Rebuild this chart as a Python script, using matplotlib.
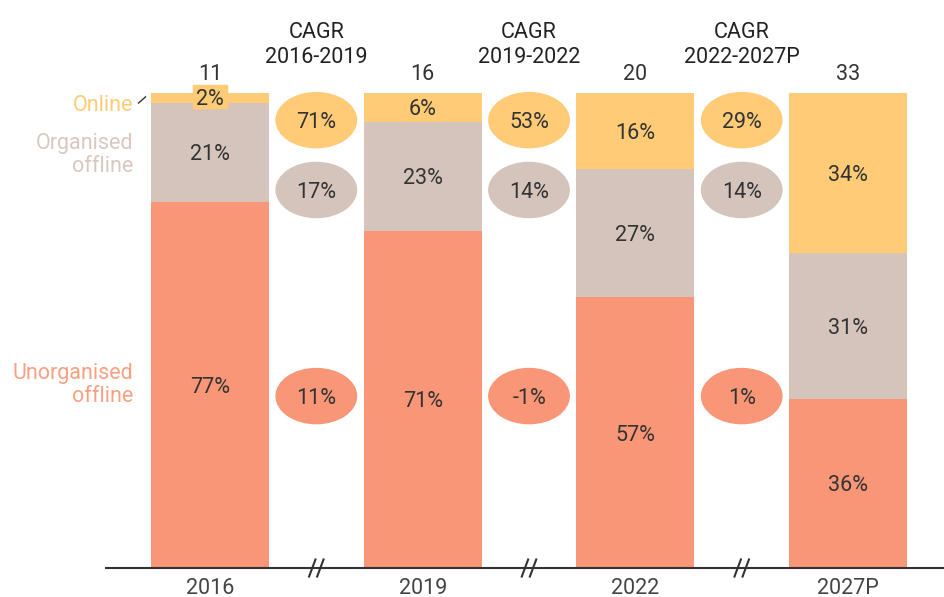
import matplotlib
matplotlib.use('Agg')
import matplotlib.pyplot as plt
from matplotlib.patches import Ellipse, Rectangle
import numpy as np

plt.rcParams['font.family'] = ['Roboto', 'DejaVu Sans']

# ── Data ────────────────────────────────────────────────────────────────────
years = ['2016', '2019', '2022', '2027P']
totals = [11, 16, 20, 33]
unorganised = [77, 71, 57, 36]
organised = [21, 23, 27, 31]
online = [2, 6, 16, 34]

cagr_titles = ['CAGR\n2016-2019', 'CAGR\n2019-2022', 'CAGR\n2022-2027P']
cagr_online = ['71%', '53%', '29%']
cagr_organised = ['17%', '14%', '14%']
cagr_unorganised = ['11%', '-1%', '1%']

# ── Style ───────────────────────────────────────────────────────────────────
C_UNORG = '#F89677'
C_ORG = '#D5C4BC'
C_ONLINE = '#FFCB77'
TXT = '#333333'
FS = 15.5

fig = plt.figure(figsize=(9.44, 5.97), dpi=100)
ax = fig.add_axes([0, 0, 1, 1])
ax.set_xlim(-0.987, 3.451)
ax.set_ylim(-6.1, 119.6)
ax.axis('off')

x = np.arange(len(years))
width = 0.555

stack = np.array([unorganised, organised, online], dtype=float)
shares = stack / stack.sum(axis=0) * 100
colors = [C_UNORG, C_ORG, C_ONLINE]

bottom = np.zeros(len(years))
for i, (seg, raw, col) in enumerate(zip(shares, stack, colors)):
    ax.bar(x, seg, width, bottom=bottom, color=col, edgecolor='none', zorder=2)
    for j in range(len(years)):
        yc = bottom[j] + seg[j] / 2
        if seg[j] < 4:
            # small slice: label sits in a box straddling the bar top
            yc = bottom[j] + seg[j] - 0.8
            ax.add_patch(Rectangle((x[j] - 0.08, yc - 2.4), 0.16, 4.8,
                                   color=col, zorder=3))
        ax.text(x[j], yc, f'{int(raw[j])}%', ha='center', va='center_baseline',
                fontsize=FS, color=TXT, zorder=4)
    bottom += seg

# totals above bars
for j, t in enumerate(totals):
    ax.text(x[j], 103.9, str(t), ha='center', va='center', fontsize=FS, color=TXT)

# CAGR ellipses between bars
gaps = x[:-1] + 0.5
for k, g in enumerate(gaps):
    ax.text(g, 110.2, cagr_titles[k], ha='center', va='center', fontsize=FS,
            color='#222222', linespacing=1.25)
    for yc, lab, col in [(94.3, cagr_online[k], C_ONLINE),
                         (79.6, cagr_organised[k], C_ORG),
                         (36.2, cagr_unorganised[k], C_UNORG)]:
        ax.add_patch(Ellipse((g, yc), 0.378, 11.6, color=col, zorder=2))
        ax.text(g, yc, lab, ha='center', va='center_baseline', fontsize=FS,
                color=TXT, zorder=3)

# baseline with break marks
ax.plot([-0.494, 3.451], [0, 0], color=TXT, lw=1.5, zorder=5, solid_capstyle='butt')
for g in gaps:
    for dx in (-0.019, 0.019):
        ax.plot([g + dx - 0.015, g + dx + 0.015], [-1.8, 1.8], color=TXT, lw=1.5, zorder=6)

for j, yr in enumerate(years):
    ax.text(x[j], -4.25, yr, ha='center', va='center', fontsize=FS, color='#444444')

# series labels on the left
ax.text(-0.36, 97.3, 'Online', ha='right', va='center', fontsize=FS, color=C_ONLINE)
ax.plot([-0.336, -0.303], [97.9, 99.2], color=TXT, lw=1)
ax.text(-0.36, 87.0, 'Organised\noffline', ha='right', va='center', fontsize=FS,
        color='#D9C8C0', linespacing=1.15)
ax.text(-0.36, 38.6, 'Unorganised\noffline', ha='right', va='center', fontsize=FS,
        color='#F9A083', linespacing=1.15)

fig.savefig('out.png', dpi=100)
